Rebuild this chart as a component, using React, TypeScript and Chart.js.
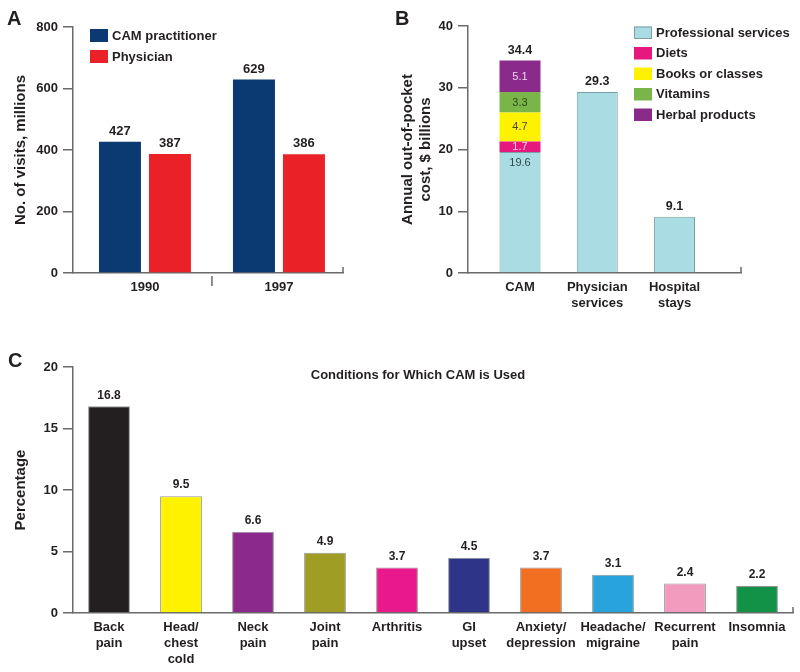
import React, { useEffect, useRef } from 'react';
import { Chart, registerables } from 'chart.js';

Chart.register(...registerables);

const FONT = "'Liberation Sans', Arial, Helvetica, sans-serif";
const AXIS = '#6a6a6a';
const INK = '#231f20';

// ---------- Panel A ----------
const visitYears = ['1990', '1997'];
const camPractitionerVisits = [427, 629];
const physicianVisits = [387, 386];
const visitTicks = [0, 200, 400, 600, 800];

// ---------- Panel B ----------
const costCategories = [['CAM'], ['Physician', 'services'], ['Hospital', 'stays']];
const professionalServices = [19.6, 29.3, 9.1];
const diets = [1.7, null, null];
const booksOrClasses = [4.7, null, null];
const vitamins = [3.3, null, null];
const herbalProducts = [5.1, null, null];
const costTotals = [34.4, 29.3, 9.1];
const costTicks = [0, 10, 20, 30, 40];

// ---------- Panel C ----------
const conditions = [
  ['Back', 'pain'],
  ['Head/', 'chest', 'cold'],
  ['Neck', 'pain'],
  ['Joint', 'pain'],
  ['Arthritis'],
  ['GI', 'upset'],
  ['Anxiety/', 'depression'],
  ['Headache/', 'migraine'],
  ['Recurrent', 'pain'],
  ['Insomnia'],
];
const conditionPercentages = [16.8, 9.5, 6.6, 4.9, 3.7, 4.5, 3.7, 3.1, 2.4, 2.2];
const percentTicks = [0, 5, 10, 15, 20];
const conditionColors = [
  '#231f20', '#fff200', '#8b2a8c', '#a09d24', '#ea198b',
  '#2e3487', '#f26f22', '#29a3dc', '#f39bbf', '#119247',
];

function yAxis(max: number, ticks: number[], title: string | string[], padTop: number, width: number) {
  return {
    min: 0,
    max,
    afterBuildTicks: (s: any) => {
      s.ticks = ticks.map((v) => ({ value: v }));
    },
    ticks: { color: INK, font: { family: FONT, size: 13, weight: 'bold' }, padding: 5 },
    grid: { drawOnChartArea: false, drawTicks: true, tickLength: 10, color: AXIS, lineWidth: 1.5 },
    border: { display: true, color: AXIS, width: 1.5 },
    title: {
      display: true,
      text: title,
      color: INK,
      font: { family: FONT, size: 15, weight: 'bold', lineHeight: 1.2 },
      padding: { top: padTop, bottom: 0 },
    },
    afterFit: (s: any) => {
      s.width = width;
    },
  };
}

function xTicks(padding: number) {
  return {
    color: INK,
    font: { family: FONT, size: 13, weight: 'bold', lineHeight: 1.2 },
    padding,
    maxRotation: 0,
    minRotation: 0,
    autoSkip: false,
  };
}

function drawLegend(ctx: any, chart: any, left: number, top: number, step: number, bw: number, bh: number) {
  ctx.save();
  ctx.font = `bold 13px ${FONT}`;
  ctx.textAlign = 'left';
  ctx.textBaseline = 'middle';
  chart.data.datasets.forEach((ds: any, i: number) => {
    const y = top + i * step;
    ctx.fillStyle = ds.backgroundColor;
    ctx.fillRect(left, y, bw, bh);
    if (ds.borderWidth) {
      ctx.strokeStyle = ds.borderColor;
      ctx.lineWidth = 1;
      ctx.strokeRect(left + 0.5, y + 0.5, bw - 1, bh - 1);
    }
    ctx.fillStyle = INK;
    ctx.fillText(ds.label, left + bw + 4, y + bh / 2 + 0.5);
  });
  ctx.restore();
}

const panelAPlugin = {
  id: 'panelA',
  afterDraw(chart: any) {
    const { ctx, chartArea, scales } = chart;
    ctx.save();
    ctx.fillStyle = INK;
    ctx.font = `bold 20px ${FONT}`;
    ctx.textAlign = 'left';
    ctx.textBaseline = 'alphabetic';
    ctx.fillText('A', 7, 25);

    ctx.font = `bold 13px ${FONT}`;
    ctx.textAlign = 'center';
    ctx.textBaseline = 'bottom';
    chart.data.datasets.forEach((ds: any, di: number) => {
      chart.getDatasetMeta(di).data.forEach((el: any, i: number) => {
        const { x, y } = el.getProps(['x', 'y'], true);
        ctx.fillText(String(ds.data[i].y), x, y - 4);
      });
    });

    const xs = scales.x;
    ctx.strokeStyle = AXIS;
    ctx.lineWidth = 1.5;
    ctx.beginPath();
    const mid = xs.getPixelForValue(0.5);
    ctx.moveTo(mid, chartArea.bottom + 3);
    ctx.lineTo(mid, chartArea.bottom + 13);
    ctx.moveTo(xs.right, chartArea.bottom);
    ctx.lineTo(xs.right, chartArea.bottom - 6);
    ctx.stroke();
    ctx.restore();

    drawLegend(ctx, chart, chartArea.left + 17, chartArea.top + 2, 21, 18, 13);
  },
};

const segmentTextColors = ['#33474a', '#fbd3e8', '#4a4a20', '#2f4a1a', '#f3d3f0'];

const panelBPlugin = {
  id: 'panelB',
  afterDraw(chart: any) {
    const { ctx, chartArea, scales } = chart;
    ctx.save();
    ctx.fillStyle = INK;
    ctx.font = `bold 20px ${FONT}`;
    ctx.textAlign = 'left';
    ctx.textBaseline = 'alphabetic';
    ctx.fillText('B', 15, 25);

    // segment labels inside the CAM stack
    ctx.font = `11px ${FONT}`;
    ctx.textAlign = 'center';
    const tops: number[] = [];
    chart.data.datasets.forEach((ds: any, di: number) => {
      chart.getDatasetMeta(di).data.forEach((el: any, i: number) => {
        const v = ds.data[i] ? ds.data[i].y : null;
        if (v === null || v === undefined) return;
        const { x, y, base } = el.getProps(['x', 'y', 'base'], true);
        tops[i] = tops[i] === undefined ? y : Math.min(tops[i], y);
        if (i !== 0) return;
        ctx.fillStyle = segmentTextColors[di];
        if (di === 0) {
          ctx.textBaseline = 'top';
          ctx.fillText(String(v), x, y + 5);
        } else {
          ctx.textBaseline = 'middle';
          ctx.fillText(String(v), x, (y + base) / 2 + 0.5);
        }
      });
    });

    // totals above the bars
    ctx.fillStyle = INK;
    ctx.font = `bold 12.5px ${FONT}`;
    ctx.textBaseline = 'bottom';
    const meta0 = chart.getDatasetMeta(0);
    costTotals.forEach((t, i) => {
      const el = meta0.data[i];
      if (!el) return;
      ctx.fillText(t.toFixed(1), el.x, tops[i] - 4);
    });

    const xs = scales.x;
    ctx.strokeStyle = AXIS;
    ctx.lineWidth = 1.5;
    ctx.beginPath();
    ctx.moveTo(xs.right, chartArea.bottom);
    ctx.lineTo(xs.right, chartArea.bottom - 6);
    ctx.stroke();
    ctx.restore();

    drawLegend(ctx, chart, chartArea.left + 166, chartArea.top + 0.5, 20.5, 18, 12.5);
  },
};

const panelCPlugin = {
  id: 'panelC',
  afterDraw(chart: any) {
    const { ctx, chartArea, scales } = chart;
    ctx.save();
    ctx.fillStyle = INK;
    ctx.font = `bold 20px ${FONT}`;
    ctx.textAlign = 'left';
    ctx.textBaseline = 'alphabetic';
    ctx.fillText('C', 8, 27);

    ctx.font = `bold 13px ${FONT}`;
    ctx.textAlign = 'center';
    ctx.textBaseline = 'middle';
    ctx.fillText('Conditions for Which CAM is Used', (chartArea.left + chartArea.right) / 2 - 15, chartArea.top + 8);

    ctx.font = `bold 12px ${FONT}`;
    ctx.textBaseline = 'bottom';
    const ds = chart.data.datasets[0];
    chart.getDatasetMeta(0).data.forEach((el: any, i: number) => {
      const { x, y } = el.getProps(['x', 'y'], true);
      ctx.fillText(ds.data[i].toFixed(1), x, y - 5);
    });

    const xs = scales.x;
    ctx.strokeStyle = AXIS;
    ctx.lineWidth = 1.5;
    ctx.beginPath();
    ctx.moveTo(xs.right, chartArea.bottom);
    ctx.lineTo(xs.right, chartArea.bottom - 6);
    ctx.stroke();
    ctx.restore();
  },
};

const xBorder = { display: true, color: AXIS, width: 1.5 };

export default function App() {
  const aRef = useRef<HTMLCanvasElement>(null);
  const bRef = useRef<HTMLCanvasElement>(null);
  const cRef = useRef<HTMLCanvasElement>(null);

  useEffect(() => {
    const charts: Chart[] = [];

    const aDataset = (label: string, data: number[], color: string) => ({
      label,
      data: data.map((v, i) => ({ x: i, y: v })),
      backgroundColor: color,
      borderWidth: 0,
      barPercentage: 0.84,
      categoryPercentage: 0.746,
    });

    charts.push(
      new Chart(aRef.current as HTMLCanvasElement, {
        type: 'bar',
        data: {
          datasets: [
            aDataset('CAM practitioner', camPractitionerVisits, '#0b3a72'),
            aDataset('Physician', physicianVisits, '#ea2228'),
          ] as any,
        },
        options: {
          responsive: false,
          animation: false,
          layout: { padding: { top: 27, right: 37, left: 0, bottom: 0 } },
          plugins: { legend: { display: false }, tooltip: { enabled: false } },
          scales: {
            x: {
              type: 'linear',
              offset: false,
              min: -0.537,
              max: 1.478,
              afterBuildTicks: (s: any) => {
                s.ticks = visitYears.map((_, i) => ({ value: i }));
              },
              grid: { display: false, drawTicks: false },
              border: xBorder,
              ticks: { ...xTicks(7), callback: (v: any) => visitYears[v] },
              afterFit: (s: any) => {
                s.height = 47;
              },
            },
            y: yAxis(800, visitTicks, 'No. of visits, millions', 12, 73),
          } as any,
        },
        plugins: [panelAPlugin],
      })
    );

    const bDataset = (label: string, data: (number | null)[], color: string, border: number, borderColor: string) => ({
      label,
      data: data.map((v, i) => ({ x: i, y: v })),
      backgroundColor: color,
      borderColor,
      borderWidth: border,
      barPercentage: 0.53,
      categoryPercentage: 1,
    });

    charts.push(
      new Chart(bRef.current as HTMLCanvasElement, {
        type: 'bar',
        data: {
          datasets: [
            bDataset('Professional services', professionalServices, '#a9dde3', 1, '#7a9fa5'),
            bDataset('Diets', diets, '#e6187d', 0, '#e6187d'),
            bDataset('Books or classes', booksOrClasses, '#fff200', 0, '#fff200'),
            bDataset('Vitamins', vitamins, '#79b548', 0, '#79b548'),
            bDataset('Herbal products', herbalProducts, '#8a2a8b', 0, '#8a2a8b'),
          ] as any,
        },
        options: {
          responsive: false,
          animation: false,
          layout: { padding: { top: 26, right: 59, left: 0, bottom: 0 } },
          plugins: { legend: { display: false }, tooltip: { enabled: false } },
          scales: {
            x: {
              type: 'linear',
              stacked: true,
              offset: false,
              min: -0.673,
              max: 2.86,
              afterBuildTicks: (s: any) => {
                s.ticks = costCategories.map((_, i) => ({ value: i }));
              },
              grid: { display: false, drawTicks: false },
              border: xBorder,
              ticks: { ...xTicks(7), callback: (v: any) => costCategories[v] },
              afterFit: (s: any) => {
                s.height = 47;
              },
            },
            y: {
              ...yAxis(40, costTicks, ['Annual out-of-pocket', 'cost, $ billions'], 19, 88),
              stacked: true,
            },
          } as any,
        },
        plugins: [panelBPlugin],
      })
    );

    charts.push(
      new Chart(cRef.current as HTMLCanvasElement, {
        type: 'bar',
        data: {
          labels: conditions,
          datasets: [
            {
              label: 'Percentage',
              data: conditionPercentages,
              backgroundColor: conditionColors,
              borderColor: 'rgba(60,60,60,0.55)',
              borderWidth: 1,
              barPercentage: 0.58,
              categoryPercentage: 1,
            },
          ],
        },
        options: {
          responsive: false,
          animation: false,
          layout: { padding: { top: 27, right: 7, left: 0, bottom: 0 } },
          plugins: { legend: { display: false }, tooltip: { enabled: false } },
          scales: {
            x: {
              offset: true,
              grid: { display: false, drawTicks: false },
              border: xBorder,
              ticks: xTicks(7),
              afterFit: (s: any) => {
                s.height = 59;
              },
            },
            y: yAxis(20, percentTicks, 'Percentage', 12, 73),
          } as any,
        },
        plugins: [panelCPlugin],
      })
    );

    return () => {
      charts.forEach((c) => c.destroy());
    };
  }, []);

  return (
    <div
      style={{
        position: 'fixed',
        left: 0,
        top: 0,
        width: 800,
        height: 672,
        background: '#ffffff',
        overflow: 'hidden',
      }}
    >
      <canvas ref={aRef} width={380} height={320} style={{ position: 'absolute', left: 0, top: 0 }} />
      <canvas ref={bRef} width={420} height={320} style={{ position: 'absolute', left: 380, top: 0 }} />
      <canvas ref={cRef} width={800} height={332} style={{ position: 'absolute', left: 0, top: 340 }} />
    </div>
  );
}
